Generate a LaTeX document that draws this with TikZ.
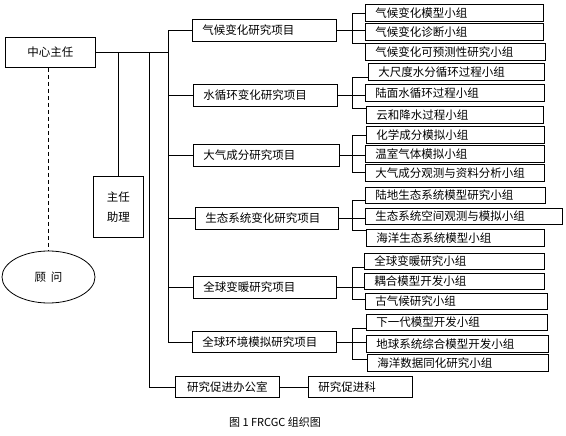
\documentclass[tikz,border=0pt]{standalone}
\usepackage{fontspec}
\setmainfont{Noto Sans CJK SC}
\usepackage{tikz}
\usetikzlibrary{shapes.geometric}

\begin{document}
\begin{tikzpicture}[x=1pt, y=-1pt, line width=0.8pt,
  font=\fontsize{11.5}{14}\selectfont,
  box/.style={draw, anchor=north west, inner xsep=10pt, inner ysep=0pt, align=left},
  grp/.style={box, minimum height=17pt}]
\useasboundingbox (0,0) rectangle (566,436);

% left part
\node[box, align=center, text width=70pt, minimum height=30pt] (zr) at (5,37) {中心主任};
\node[box, align=center, text width=30pt, minimum height=61pt, font=\fontsize{11.5}{20}\selectfont] (zl) at (93,176) {主任\\助理};
\node[draw, ellipse, minimum width=93pt, minimum height=52pt, inner sep=0pt] (gw) at (48.5,277) {顾\hspace{5pt}问};

% projects
\node[box, text width=124pt, minimum height=22pt] (p1) at (192,19) {气候变化研究项目};
\node[box, text width=124pt, minimum height=22pt] (p2) at (193,84) {水循环变化研究项目};
\node[box, text width=126pt, minimum height=22pt] (p3) at (193,144) {大气成分研究项目};
\node[box, text width=123pt, minimum height=22pt] (p4) at (195,207) {生态系统变化研究项目};
\node[box, text width=123pt, minimum height=22pt] (p5) at (193,276) {全球变暖研究项目};
\node[box, text width=124pt, minimum height=21pt] (p6) at (192,331) {全球环境模拟研究项目};

\node[box, align=center, text width=84pt, minimum height=21pt] (bgs) at (175,376) {研究促进办公室};
\node[box, text width=84pt, minimum height=21pt] (kk) at (308,376) {研究促进科};

% groups
\node[grp, text width=158pt] (g11) at (365,4) {气候变化模型小组};
\node[grp, text width=158pt] (g12) at (365,23) {气候变化诊断小组};
\node[grp, text width=160pt] (g13) at (365,43) {气候变化可预测性研究小组};

\node[grp, text width=156pt] (g21) at (368,63) {大尺度水分循环过程小组};
\node[grp, text width=159pt] (g22) at (365,84) {陆面水循环过程小组};
\node[grp, text width=157pt] (g23) at (366,106) {云和降水过程小组};

\node[grp, text width=158pt] (g31) at (366,126) {化学成分模拟小组};
\node[grp, text width=159pt] (g32) at (365,145) {温室气体模拟小组};
\node[grp, text width=159pt] (g33) at (365,164) {大气成分观测与资料分析小组};

\node[grp, text width=160pt, minimum height=16pt] (g41) at (365,187) {陆地生态系统模型研究小组};
\node[grp, text width=177pt, minimum height=16pt] (g42) at (365,208) {生态系统空间观测与模拟小组};
\node[grp, text width=158pt] (g43) at (366,229) {海洋生态系统模型小组};

\node[grp, text width=160pt, minimum height=16pt] (g51) at (364,253) {全球变暖研究小组};
\node[grp, text width=160pt, minimum height=16pt] (g52) at (364,273) {耦合模型开发小组};
\node[grp, text width=162pt, minimum height=16pt] (g53) at (365,293) {古气候研究小组};

\node[grp, text width=161pt, minimum height=16pt] (g61) at (366,314) {下一代模型开发小组};
\node[grp, text width=162pt] (g62) at (366,335) {地球系统综合模型开发小组};
\node[grp, text width=161pt] (g63) at (367,354) {海洋数据同化研究小组};

\node (cap) at (275,422) {\fontsize{11}{13}\selectfont 图 1 FRCGC 组织图};

% lines from the director
\coordinate (tr) at (168,0);
\coordinate (ban) at (149,0);
\draw (zr.east) -- (zr.east -| tr);
\draw (zl.north |- zr.east) -- (zl.north);
\draw (zr.east -| ban) |- (bgs.west);
\draw (bgs.east) -- (kk.west);
\draw[dash pattern=on 4pt off 3pt] (zr.south -| gw.north) -- (gw.north);

% trunk to the projects
\draw (p1.west -| tr) -- (p6.west -| tr);
\draw (p1.west -| tr) -- (p1.west);
\draw (p2.west -| tr) -- (p2.west);
\draw (p3.west -| tr) -- (p3.west);
\draw (p4.west -| tr) -- (p4.west);
\draw (p5.west -| tr) -- (p5.west);
\draw (p6.west -| tr) -- (p6.west);

% brackets to the groups
\coordinate (k1a) at (352,13);  \coordinate (k1b) at (352,43);
\coordinate (k2a) at (352,77);  \coordinate (k2b) at (352,108);
\coordinate (k3a) at (352,135); \coordinate (k3b) at (352,172);
\coordinate (k4a) at (352,200); \coordinate (k4b) at (352,230);
\coordinate (k5a) at (352,267); \coordinate (k5b) at (352,299);
\coordinate (k6a) at (352,328); \coordinate (k6b) at (352,359);

\draw (p1.east) -- (p1.east -| g12.west);
\draw (g11.west |- k1a) -- (k1a) -- (k1b) -- (g13.west |- k1b);
\draw (p2.east) -- (p2.east -| g22.west);
\draw (g21.west |- k2a) -- (k2a) -- (k2b) -- (g23.west |- k2b);
\draw (p3.east) -- (p3.east -| g32.west);
\draw (g31.west |- k3a) -- (k3a) -- (k3b) -- (g33.west |- k3b);
\draw (p4.east) -- (p4.east -| g42.west);
\draw (g41.west |- k4a) -- (k4a) -- (k4b) -- (g43.west |- k4b);
\draw (p5.east) -- (p5.east -| g52.west);
\draw (g51.west |- k5a) -- (k5a) -- (k5b) -- (g53.west |- k5b);
\draw (p6.east) -- (p6.east -| g62.west);
\draw (g61.west |- k6a) -- (k6a) -- (k6b) -- (g63.west |- k6b);

\end{tikzpicture}
\end{document}
